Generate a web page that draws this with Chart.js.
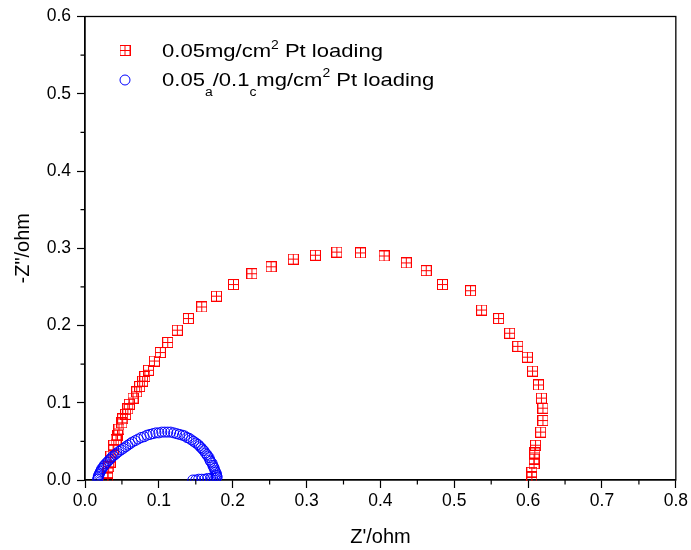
<!DOCTYPE html>
<html>
<head>
<meta charset="utf-8">
<script src="https://cdn.jsdelivr.net/npm/chart.js@4.4.0/dist/chart.umd.min.js"></script>
<style>
  html, body { margin: 0; padding: 0; background: #fff; }
  #caixa { width: 691px; height: 550px; }
</style>
</head>
<body>
<div id="caixa"><canvas id="nyquist"></canvas></div>
<script>
// 0.05 mg/cm2 Pt (vermelho)
var zre_005 = [0.031, 0.031, 0.032, 0.034, 0.035, 0.038, 0.039, 0.042, 0.044, 0.046, 0.050, 0.051, 0.055,
  0.058, 0.060, 0.065, 0.070, 0.074, 0.078, 0.081, 0.086, 0.094, 0.102, 0.112, 0.125, 0.140,
  0.158, 0.178, 0.201, 0.226, 0.252, 0.282, 0.312, 0.341, 0.373, 0.405, 0.435, 0.462, 0.484, 0.522, 0.537, 0.560,
  0.575, 0.586, 0.599, 0.606, 0.614, 0.618, 0.620, 0.620, 0.617, 0.610, 0.609, 0.608, 0.608, 0.605, 0.605]
var zim_005 = [0.003, 0.009, 0.017, 0.023, 0.031, 0.039, 0.045, 0.052, 0.058, 0.066, 0.074, 0.079, 0.085,
  0.092, 0.098, 0.106, 0.114, 0.121, 0.128, 0.134, 0.142, 0.154, 0.165, 0.178, 0.194, 0.209,
  0.224, 0.238, 0.253, 0.267, 0.276, 0.286, 0.291, 0.295, 0.294, 0.290, 0.281, 0.271, 0.253, 0.245, 0.220, 0.209,
  0.190, 0.173, 0.159, 0.141, 0.123, 0.106, 0.093, 0.077, 0.062, 0.045, 0.035, 0.027, 0.021, 0.010, 0.004]

// 0.05 anodo / 0.1 catodo (azul)
var zre_mix = [0.017, 0.018, 0.018, 0.019, 0.020, 0.021, 0.022, 0.023, 0.025, 0.026, 0.028, 0.030, 0.032,
  0.034, 0.036, 0.038, 0.041, 0.043, 0.046, 0.049, 0.052, 0.055, 0.058, 0.061, 0.064, 0.068,
  0.072, 0.076, 0.080, 0.084, 0.088, 0.092, 0.096, 0.100, 0.104, 0.108, 0.112, 0.116, 0.120,
  0.124, 0.128, 0.132, 0.135, 0.138, 0.141, 0.144, 0.147, 0.150, 0.153, 0.155, 0.157, 0.159,
  0.161, 0.163, 0.165, 0.166, 0.168, 0.169, 0.170, 0.172, 0.173, 0.174, 0.175, 0.176, 0.177,
  0.178, 0.178, 0.179, 0.178, 0.176, 0.173, 0.170, 0.166, 0.162, 0.158, 0.154, 0.150, 0.146]
var zim_mix = [0.001, 0.003, 0.005, 0.007, 0.009, 0.011, 0.013, 0.015, 0.017, 0.019, 0.021, 0.023, 0.025,
  0.027, 0.029, 0.031, 0.033, 0.035, 0.037, 0.039, 0.041, 0.043, 0.045, 0.047, 0.049, 0.051,
  0.053, 0.055, 0.056, 0.058, 0.059, 0.060, 0.061, 0.061, 0.062, 0.062, 0.062, 0.062, 0.061,
  0.060, 0.059, 0.058, 0.057, 0.055, 0.054, 0.052, 0.050, 0.048, 0.046, 0.044, 0.042, 0.040,
  0.038, 0.035, 0.033, 0.031, 0.029, 0.026, 0.024, 0.022, 0.019, 0.017, 0.015, 0.012, 0.010,
  0.008, 0.006, 0.004, 0.003, 0.002, 0.002, 0.002, 0.002, 0.001, 0.001, 0.001, 0.000, 0.000]

// textos da legenda (sup = expoente, sub = indice)
var legenda_005 = [{t: '0.05mg/cm'}, {t: '2', tipo: 'sup'}, {t: ' Pt loading'}]
var legenda_mix = [{t: '0.05'}, {t: 'a', tipo: 'sub'}, {t: '/0.1'}, {t: 'c', tipo: 'sub'},
  {t: 'mg/cm'}, {t: '2', tipo: 'sup'}, {t: ' Pt loading'}]

var titulo_x = "Z'/ohm"
var titulo_y = '-Z"/ohm'

var fonte = '"Liberation Sans", Arial, sans-serif'

function pares(xs, ys) {
  return xs.map(function (x, i) { return {x: x, y: ys[i]} })
}

// quadrado com cruz
var quadrado = document.createElement('canvas')
quadrado.width = 11
quadrado.height = 11
var g = quadrado.getContext('2d')
g.strokeStyle = '#ff0000'
g.lineWidth = 1
g.strokeRect(0.5, 0.5, 10, 10)
g.beginPath()
g.moveTo(5.5, 0.5); g.lineTo(5.5, 10.5)
g.moveTo(0.5, 5.5); g.lineTo(10.5, 5.5)
g.stroke()

function escreve(ctx, partes, x, y) {
  ctx.save()
  ctx.translate(x, y)
  ctx.scale(1.16, 1)
  ctx.fillStyle = '#000'
  ctx.textBaseline = 'alphabetic'
  var cx = 0
  partes.forEach(function (p) {
    var tam = p.tipo ? 12 : 19
    var dy = p.tipo == 'sup' ? -8.5 : (p.tipo == 'sub' ? 10 : 0)
    ctx.font = tam + 'px ' + fonte
    ctx.fillText(p.t, cx, dy)
    cx += ctx.measureText(p.t).width
  })
  ctx.restore()
}

var moldura = {
  id: 'moldura',
  beforeDatasetsDraw: function (chart) {
    var ctx = chart.ctx
    var a = chart.chartArea
    var sx = chart.scales.x, sy = chart.scales.y
    ctx.save()
    ctx.strokeStyle = '#000'
    ctx.lineWidth = 1.3
    ctx.strokeRect(a.left, a.top, a.right - a.left, a.bottom - a.top)
    // marcas menores
    ctx.lineWidth = 1.2
    ctx.beginPath()
    for (var v = 0.05; v < 0.8; v += 0.1) {
      var px = sx.getPixelForValue(v)
      ctx.moveTo(px, a.bottom); ctx.lineTo(px, a.bottom + 4.5)
    }
    for (var w = 0.05; w < 0.6; w += 0.1) {
      var py = sy.getPixelForValue(w)
      ctx.moveTo(a.left, py); ctx.lineTo(a.left - 4.5, py)
    }
    ctx.stroke()
    ctx.restore()
  },
  afterDraw: function (chart) {
    var ctx = chart.ctx
    ctx.save()
    ctx.drawImage(quadrado, 119.5, 45)
    ctx.beginPath()
    ctx.strokeStyle = '#0000ff'
    ctx.lineWidth = 1
    ctx.arc(125, 80, 5, 0, Math.PI * 2)
    ctx.stroke()
    ctx.restore()
    escreve(ctx, legenda_005, 162, 57)
    escreve(ctx, legenda_mix, 162, 85.5)
  }
}

var ctx = document.getElementById('nyquist').getContext('2d')
var grafico = new Chart(ctx, {
  type: 'scatter',
  data: {
    datasets: [
      {
        label: 'mix',
        data: pares(zre_mix, zim_mix),
        pointStyle: 'circle',
        pointRadius: 5,
        pointBorderWidth: 1,
        borderColor: '#0000ff',
        backgroundColor: 'rgba(0,0,0,0)',
        clip: 1
      },
      {
        label: '005',
        data: pares(zre_005, zim_005),
        pointStyle: quadrado,
        borderColor: '#ff0000',
        backgroundColor: 'rgba(0,0,0,0)',
        clip: 1
      }
    ]
  },
  options: {
    responsive: true,
    maintainAspectRatio: false,
    animation: false,
    events: [],
    layout: { padding: { top: 16, right: 11, left: 0, bottom: 0 } },
    plugins: { legend: { display: false }, tooltip: { enabled: false } },
    scales: {
      x: {
        type: 'linear',
        min: 0, max: 0.8,
        afterFit: function (s) { s.height = 70 },
        border: { color: '#000', width: 1.3 },
        grid: { drawOnChartArea: false, color: '#000', tickLength: 8, tickWidth: 1.2 },
        ticks: {
          stepSize: 0.1, color: '#000', padding: 3,
          font: { family: fonte, size: 17.5 },
          callback: function (v) { return v.toFixed(1) }
        },
        title: { display: true, text: titulo_x, color: '#000', font: { family: fonte, size: 20 }, padding: { top: 0, bottom: 1 } }
      },
      y: {
        type: 'linear',
        min: 0, max: 0.6,
        afterFit: function (s) { s.width = 85 },
        border: { color: '#000', width: 1.3 },
        grid: { drawOnChartArea: false, color: '#000', tickLength: 8, tickWidth: 1.2 },
        ticks: {
          stepSize: 0.1, color: '#000', padding: 6,
          font: { family: fonte, size: 17.5 },
          callback: function (v) { return v.toFixed(1) }
        },
        title: { display: true, text: titulo_y, color: '#000', font: { family: fonte, size: 20 }, padding: { top: 11, bottom: 0 } }
      }
    }
  },
  plugins: [moldura]
})
</script>
</body>
</html>
